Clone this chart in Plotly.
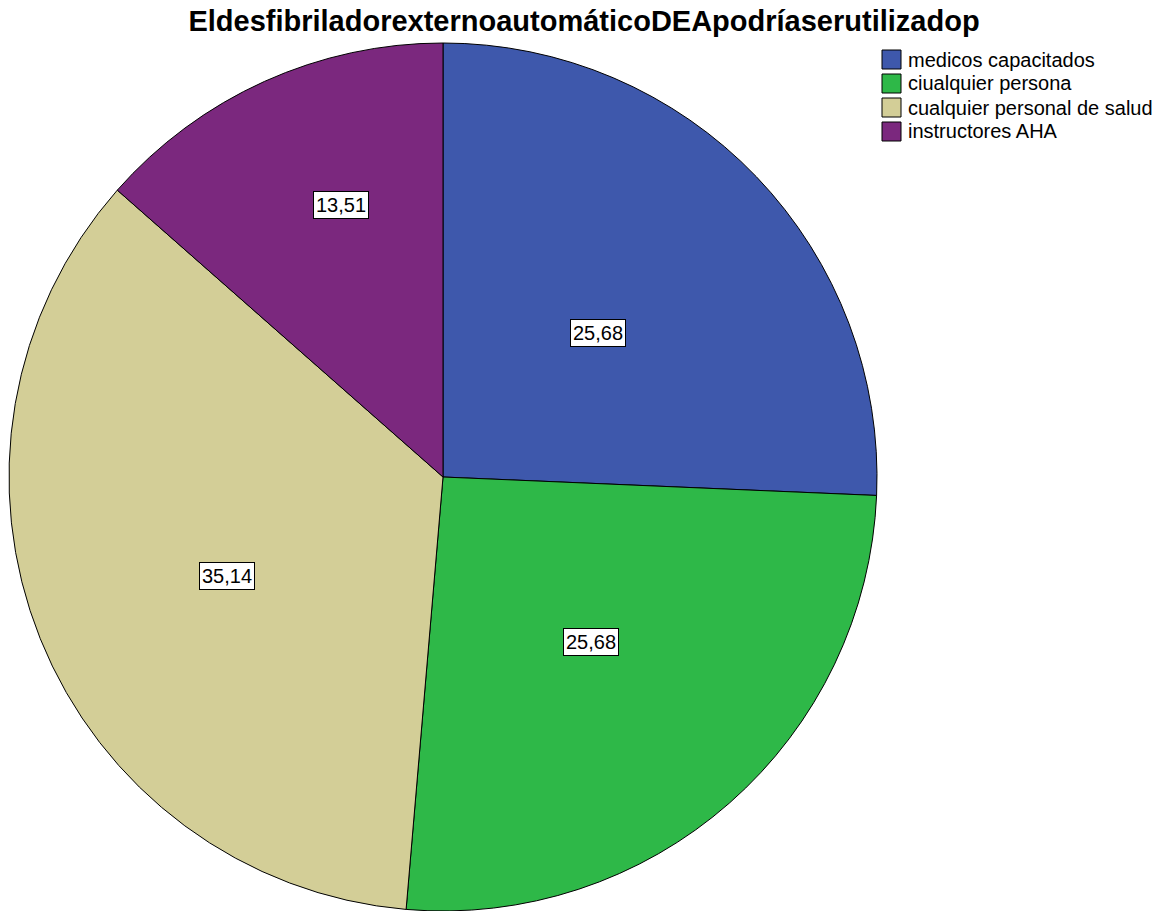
import math
import plotly.graph_objects as go

categories = ["medicos capacitados", "ciualquier persona", "cualquier personal de salud", "instructores AHA"]
values = [25.68, 25.68, 35.14, 13.51]
value_labels = ["25,68", "25,68", "35,14", "13,51"]
colors = ["#3E58AC", "#2EB848", "#D3CE97", "#7B287E"]
title_text = "EldesfibriladorexternoautomáticoDEApodríaserutilizadop"

# label placement style (radial fraction of radius, angular tweak in degrees)
label_radius_frac = [0.486, 0.511, 0.548, 0.67]
label_angle_tweak = [0.9, -0.6, -2.8, 3.8]

W, H = 1166, 911
dom_x = [9 / W, 877 / W]
dom_y = [0.0, 1 - 43 / H]


def px(x):
    return x / W


def py(y):
    return 1 - y / H


fig = go.Figure()
fig.add_trace(go.Pie(
    labels=categories, values=values, sort=False, direction="clockwise", rotation=0,
    marker=dict(colors=colors, line=dict(color="black", width=1)),
    textinfo="none", hoverinfo="label+value", showlegend=False,
    domain=dict(x=dom_x, y=dom_y),
))

cx = (dom_x[0] + dom_x[1]) / 2 * W
cy = (1 - (dom_y[0] + dom_y[1]) / 2) * H
R = min((dom_x[1] - dom_x[0]) * W, (dom_y[1] - dom_y[0]) * H) / 2
total = sum(values)
cum = 0
for v, lab, rf, tw in zip(values, value_labels, label_radius_frac, label_angle_tweak):
    mid = (cum + v / 2) / total * 360 + tw
    cum += v
    r = rf * R
    lx = cx + r * math.sin(math.radians(mid))
    ly = cy - r * math.cos(math.radians(mid))
    fig.add_annotation(x=px(lx), y=py(ly), xref="paper", yref="paper",
                       xanchor="center", yanchor="middle",
                       text=lab, showarrow=False,
                       font=dict(family="Liberation Sans, Arial", size=20, color="black"),
                       bgcolor="white", bordercolor="black", borderwidth=1, borderpad=2)

# legend drawn as squares + text
leg_x0, leg_top, leg_step, sq = 882, 50, 24, 19
for i, (cat, col) in enumerate(zip(categories, colors)):
    top = leg_top + i * leg_step
    fig.add_shape(type="rect", xref="paper", yref="paper",
                  x0=px(leg_x0), x1=px(leg_x0 + sq), y0=py(top + sq), y1=py(top),
                  fillcolor=col, line=dict(color="black", width=1))
    fig.add_annotation(x=px(leg_x0 + sq + 5), y=py(top + sq / 2), xref="paper", yref="paper",
                       text=cat, showarrow=False, xanchor="left", yanchor="middle",
                       font=dict(family="Liberation Sans, Arial", size=20, color="black"))

fig.update_layout(
    width=W, height=H,
    margin=dict(l=0, r=0, t=0, b=0),
    paper_bgcolor="white", plot_bgcolor="white",
    title=dict(text="<b>" + title_text + "</b>", x=px(584), xanchor="center",
               y=py(21), yanchor="middle",
               font=dict(family="Liberation Sans, Arial", size=29, color="black")),
    showlegend=False,
)

fig.write_html("out.html", config={"displayModeBar": False},
               post_script="document.body.style.margin='0';document.body.style.overflow='hidden';")
